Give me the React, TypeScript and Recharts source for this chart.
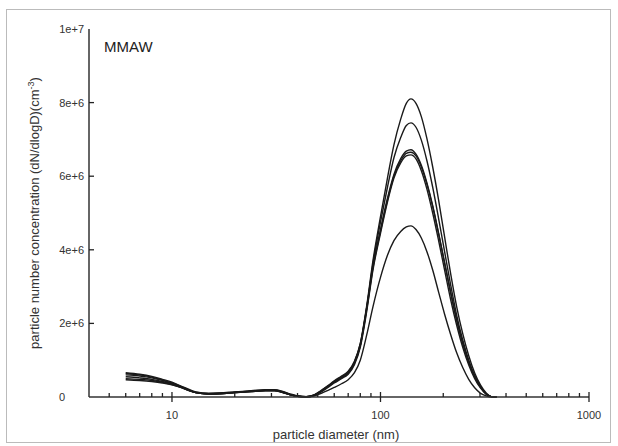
import { LineChart, Line, XAxis, YAxis, Customized } from 'recharts';

// particle diameter grid (nm)
const DIAMETERS = [
  6, 7, 8, 9, 10, 11, 12, 13, 15, 17, 20, 24, 28, 31, 34, 37, 40, 44, 48, 52,
  56, 60, 65, 70, 75, 80, 86, 92, 100, 108, 116, 125, 133, 140, 148, 157, 167,
  178, 190, 203, 217, 232, 248, 265, 283, 302, 322, 340, 360,
];

// dN/dlogD in units of 1e6 cm^-3
const RUN_A = [
  0.64, 0.6, 0.54, 0.46, 0.38, 0.29, 0.2, 0.13, 0.09, 0.1, 0.13, 0.16, 0.19, 0.19, 0.14, 0.07, 0.02, 0.01, 0.05, 0.17,
  0.3, 0.42, 0.55, 0.68, 0.95, 1.45, 2.5, 3.7, 4.9, 5.95, 6.85, 7.55, 7.98, 8.1, 7.98, 7.62, 7.02,
  6.25, 5.35, 4.35, 3.35, 2.45, 1.72, 1.12, 0.65, 0.32, 0.1, 0.01, 0,
];
const RUN_B = [
  0.6, 0.57, 0.52, 0.45, 0.37, 0.28, 0.19, 0.12, 0.09, 0.1, 0.13, 0.16, 0.18, 0.18, 0.13, 0.06, 0.02, 0.01, 0.05, 0.16,
  0.29, 0.4, 0.52, 0.65, 0.92, 1.4, 2.45, 3.62, 4.75, 5.7, 6.5, 7.05, 7.38, 7.45, 7.33, 6.98, 6.42,
  5.7, 4.85, 3.95, 3.05, 2.22, 1.55, 1.0, 0.58, 0.28, 0.08, 0.01, 0,
];
const RUN_C = [
  0.66, 0.62, 0.56, 0.48, 0.4, 0.3, 0.21, 0.14, 0.1, 0.11, 0.14, 0.17, 0.2, 0.2, 0.15, 0.08, 0.03, 0.01, 0.06, 0.18,
  0.31, 0.44, 0.57, 0.7, 0.97, 1.45, 2.45, 3.55, 4.55, 5.4, 6.05, 6.48, 6.68, 6.72, 6.6, 6.3, 5.82,
  5.2, 4.45, 3.65, 2.85, 2.1, 1.47, 0.95, 0.55, 0.27, 0.08, 0.01, 0,
];
const RUN_D = [
  0.55, 0.52, 0.48, 0.42, 0.35, 0.27, 0.18, 0.12, 0.08, 0.09, 0.12, 0.15, 0.18, 0.18, 0.13, 0.06, 0.02, 0.0, 0.04, 0.15,
  0.28, 0.4, 0.53, 0.66, 0.93, 1.4, 2.4, 3.5, 4.5, 5.35, 6.0, 6.42, 6.62, 6.65, 6.55, 6.25, 5.78,
  5.17, 4.43, 3.63, 2.83, 2.08, 1.45, 0.94, 0.54, 0.26, 0.08, 0.01, 0,
];
const RUN_E = [
  0.5, 0.48, 0.45, 0.4, 0.34, 0.26, 0.18, 0.12, 0.08, 0.09, 0.12, 0.15, 0.17, 0.17, 0.12, 0.06, 0.02, 0.0, 0.04, 0.14,
  0.26, 0.38, 0.5, 0.62, 0.88, 1.35, 2.35, 3.45, 4.45, 5.3, 5.95, 6.36, 6.55, 6.58, 6.47, 6.15, 5.65,
  5.0, 4.25, 3.45, 2.65, 1.95, 1.35, 0.87, 0.5, 0.24, 0.07, 0.01, 0,
];
const RUN_F = [
  0.47, 0.45, 0.42, 0.38, 0.33, 0.26, 0.18, 0.12, 0.08, 0.09, 0.12, 0.15, 0.17, 0.17, 0.12, 0.06, 0.02, 0.0, 0.03, 0.1,
  0.18, 0.26, 0.36, 0.47, 0.66, 1.0, 1.7, 2.45, 3.25, 3.85, 4.25, 4.5, 4.62, 4.65, 4.55, 4.32, 3.95,
  3.45, 2.85, 2.25, 1.7, 1.2, 0.8, 0.48, 0.25, 0.1, 0.03, 0, 0,
];

const SERIES = [RUN_A, RUN_B, RUN_C, RUN_D, RUN_E, RUN_F];

const X_MAJOR = [10, 100, 1000];
const X_MINOR = [5, 6, 7, 8, 9, 20, 30, 40, 50, 60, 70, 80, 90, 200, 300, 400, 500, 600, 700, 800, 900];
const Y_TICKS = [0, 2, 4, 6, 8, 10];
const Y_LABELS = ['0', '2e+6', '4e+6', '6e+6', '8e+6', '1e+7'];

const rows = DIAMETERS.map((d, i) => {
  const row: Record<string, number> = { d };
  SERIES.forEach((s, k) => { row['s' + k] = s[i]; });
  return row;
});

const FONT = '"Liberation Sans", Arial, Helvetica, sans-serif';
const INK = '#333';

function BottomTick(props: any) {
  const { x, y, payload } = props;
  const major = X_MAJOR.includes(payload.value);
  return (
    <g>
      <path
        d={`M${x},${major ? y - 5 : y - 4}V${major ? y + 5 : y}`}
        style={{ stroke: '#222', strokeWidth: 1.3, fill: 'none' }}
      />
      {major && (
        <text x={x} y={y + 22} textAnchor="middle" fontSize={11} fontFamily={FONT} style={{ fill: INK }}>
          {payload.value}
        </text>
      )}
    </g>
  );
}

function LeftTick(props: any) {
  const { x, y, payload } = props;
  const i = Y_TICKS.indexOf(payload.value);
  const isZero = payload.value === 0;
  const inner = payload.value > 0 && payload.value < 10;
  return (
    <g>
      {inner && <path d={`M${x},${y}H${x + 5}`} style={{ stroke: '#222', strokeWidth: 1.3, fill: 'none' }} />}
      <text
        x={isZero ? x - 27 : x - 5}
        y={y + 4}
        textAnchor={isZero ? 'middle' : 'end'}
        fontSize={11}
        fontFamily={FONT}
        style={{ fill: INK }}
      >
        {Y_LABELS[i]}
      </text>
    </g>
  );
}

function RightTick(props: any) {
  const { x, y, payload } = props;
  if (payload.value <= 0 || payload.value >= 10) return <g />;
  return <path d={`M${x - 5},${y}H${x}`} style={{ stroke: '#222', strokeWidth: 1.3, fill: 'none' }} />;
}

function Texts() {
  return (
    <g fontFamily={FONT} style={{ fill: INK }}>
      <text x={104} y={52} fontSize={15} style={{ fill: '#222' }}>MMAW</text>
      <text x={336} y={439} fontSize={13} textAnchor="middle">particle diameter (nm)</text>
      <text x={39} y={213} fontSize={13} textAnchor="middle" transform="rotate(-90 39 213)">
        particle number concentration (dN/dlogD)(cm
        <tspan fontSize={9} dy={-5}>-3</tspan>
        <tspan dy={5}>)</tspan>
      </text>
    </g>
  );
}

export default function App() {
  return (
    <div style={{ position: 'absolute', left: 0, top: 0, width: 618, height: 446, background: '#fff' }}>
      <div
        style={{
          position: 'absolute', left: 6, top: 9, width: 605, height: 434,
          border: '1px solid #bbb', boxSizing: 'border-box',
        }}
      />
      <div style={{ position: 'absolute', left: 0, top: 0 }}>
        <LineChart width={618} height={446} data={rows} margin={{ top: 29, right: 29, bottom: 0, left: 0 }}>
          <XAxis
            dataKey="d"
            type="number"
            scale="log"
            domain={[4, 1000]}
            allowDataOverflow
            ticks={[...X_MINOR, ...X_MAJOR]}
            interval={0}
            height={49}
            tickSize={0}
            tickMargin={0}
            tickLine={false}
            axisLine={{ stroke: INK, strokeWidth: 1.5 }}
            tick={BottomTick}
          />
          <XAxis
            xAxisId="top"
            orientation="top"
            dataKey="d"
            type="number"
            scale="log"
            domain={[4, 1000]}
            allowDataOverflow
            height={0}
            tick={false}
            tickLine={false}
            axisLine={{ stroke: INK, strokeWidth: 1.5 }}
          />
          <YAxis
            type="number"
            domain={[0, 10]}
            ticks={Y_TICKS}
            interval={0}
            width={89}
            tickSize={0}
            tickMargin={0}
            tickLine={false}
            axisLine={{ stroke: INK, strokeWidth: 1.5 }}
            tick={LeftTick}
          />
          <YAxis
            yAxisId="right"
            orientation="right"
            type="number"
            domain={[0, 10]}
            ticks={Y_TICKS}
            interval={0}
            width={0}
            tickSize={0}
            tickMargin={0}
            tickLine={false}
            axisLine={{ stroke: INK, strokeWidth: 1.5 }}
            tick={RightTick}
          />
          {SERIES.map((_, k) => (
            <Line
              key={k}
              dataKey={'s' + k}
              type="monotone"
              stroke="#1a1a1a"
              strokeWidth={1.4}
              dot={false}
              isAnimationActive={false}
            />
          ))}
          <Customized component={Texts} />
        </LineChart>
      </div>
    </div>
  );
}
